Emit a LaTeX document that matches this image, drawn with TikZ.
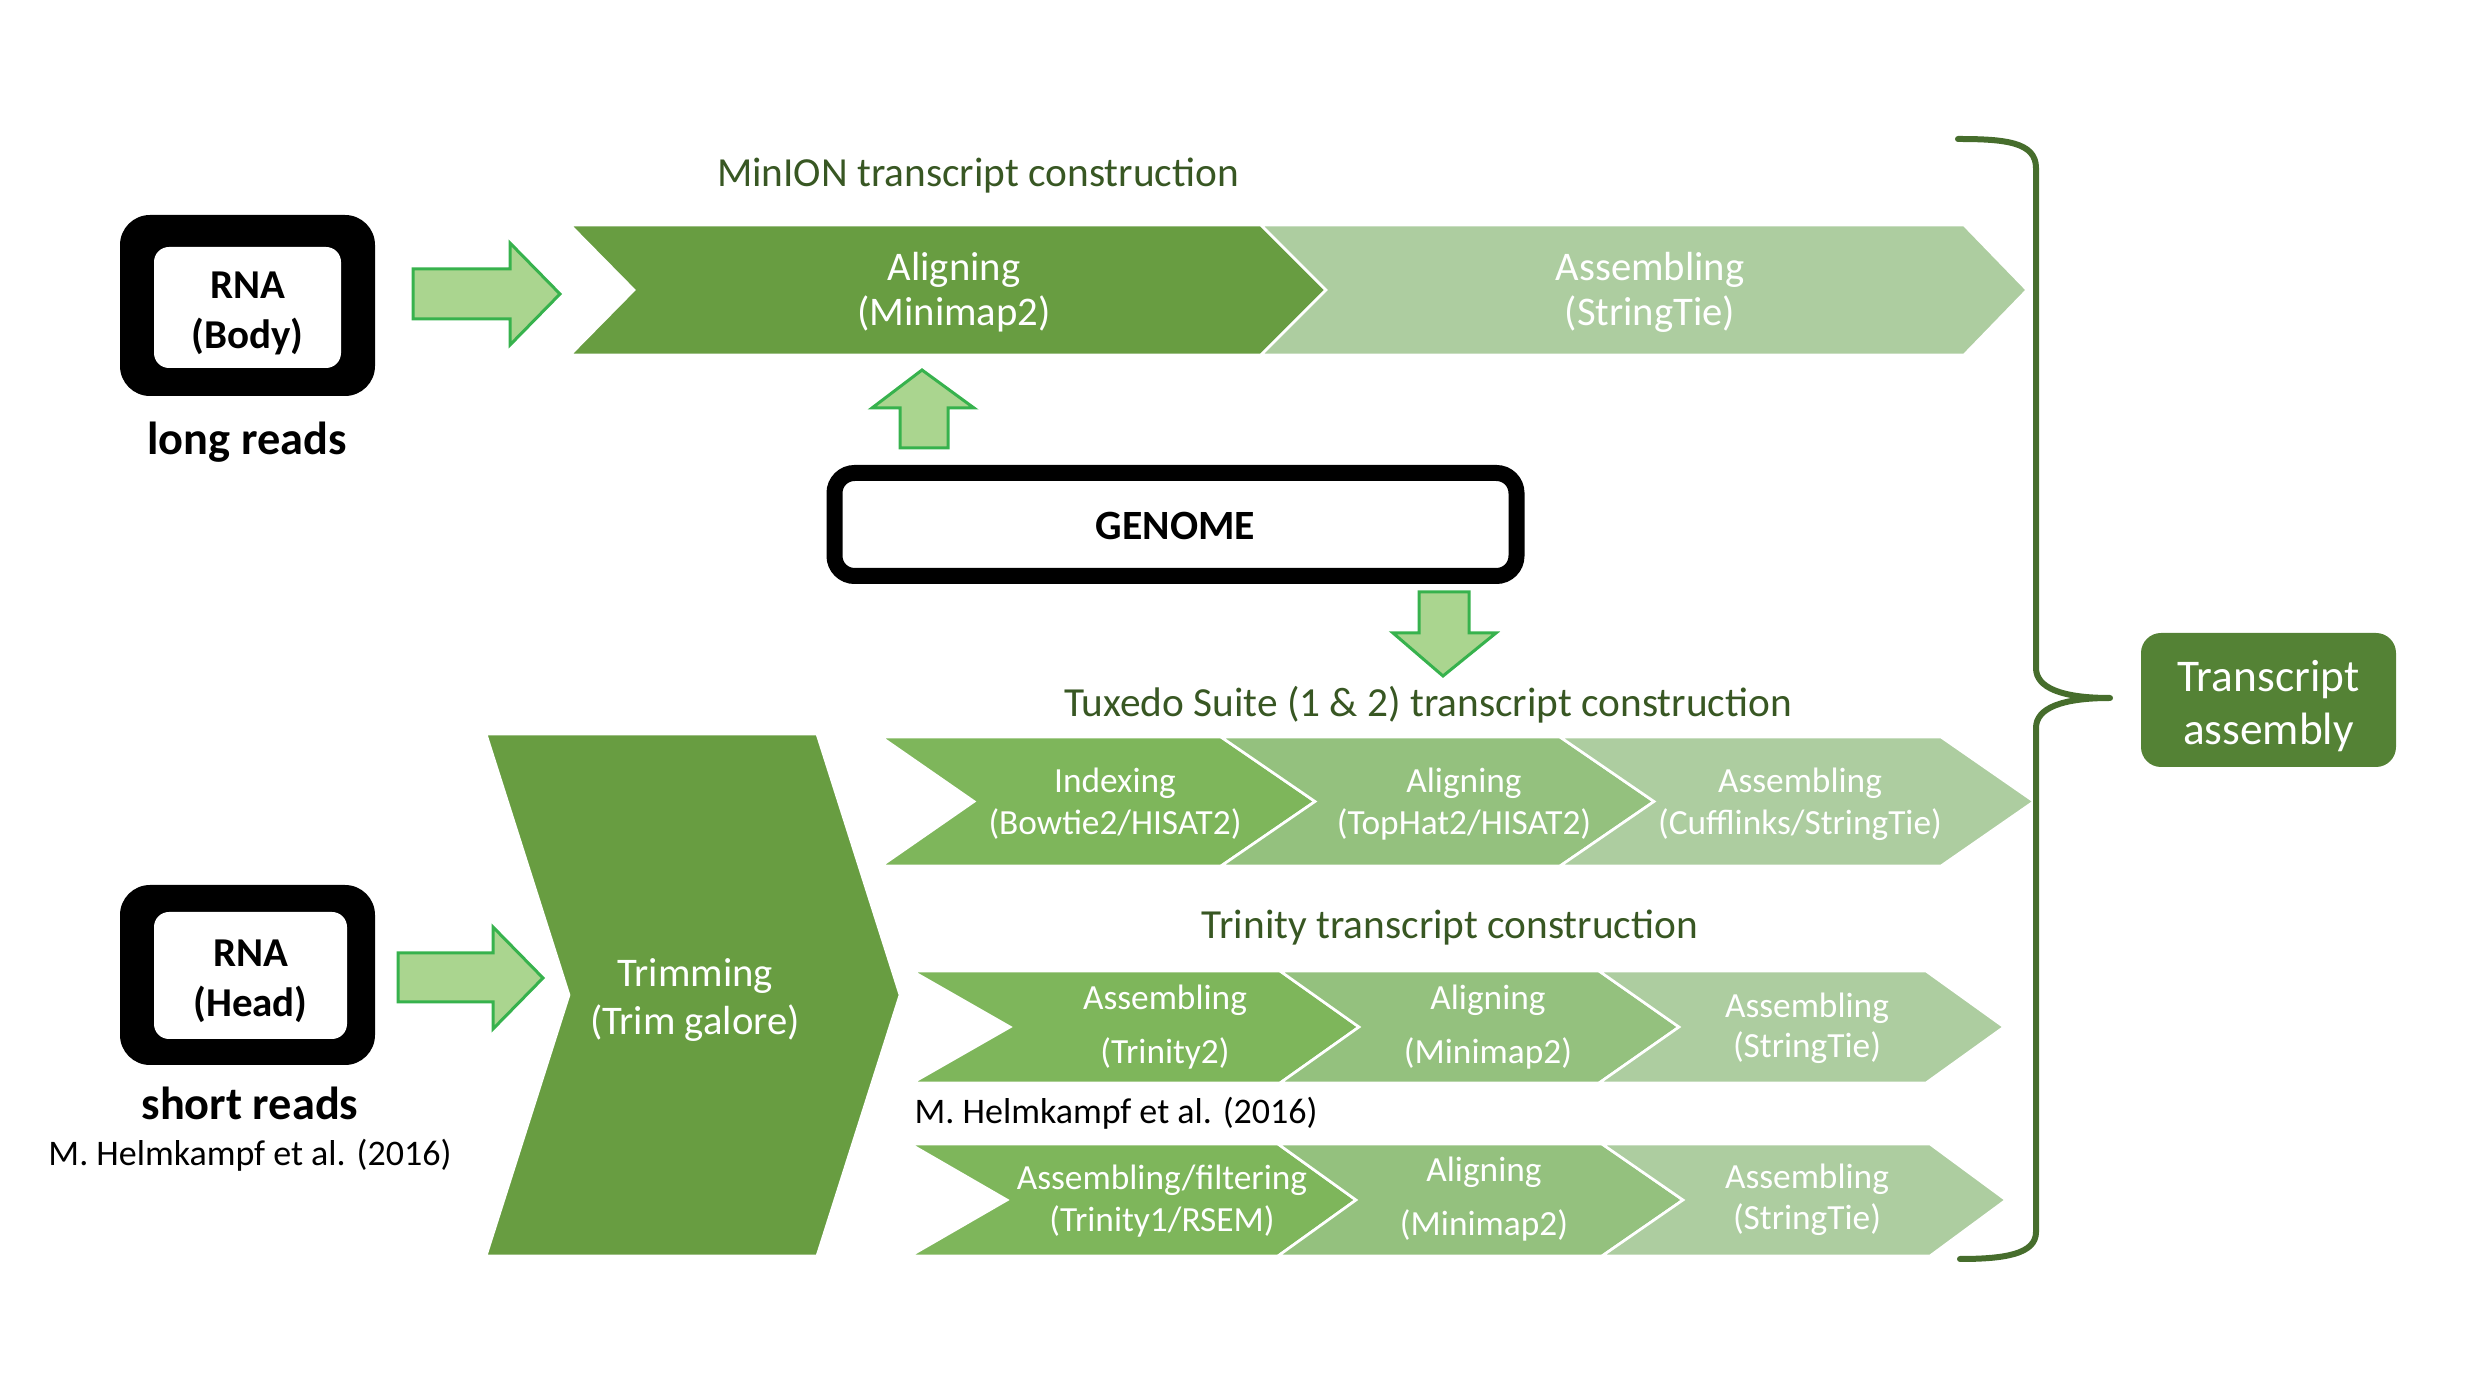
\documentclass[tikz,border=0pt]{standalone}
\usepackage{fontspec}
\setmainfont{Carlito}
\definecolor{gdark}{HTML}{689D41}
\definecolor{gone}{HTML}{7EB65B}
\definecolor{gtwo}{HTML}{94C17E}
\definecolor{gthree}{HTML}{ADCDA0}
\definecolor{garrowfill}{HTML}{AAD58F}
\definecolor{garrowline}{HTML}{37B24D}
\definecolor{gtitle}{HTML}{385723}
\definecolor{gbrace}{HTML}{466D2C}
\definecolor{gbox}{HTML}{548235}
\newcommand\chevshape[7]{\filldraw[chevfill,fill=#7] (#1,#5) -- (#3,#5) -- (#4,{(#5+#6)/2}) -- (#3,#6) -- (#1,#6) -- (#2,{(#5+#6)/2}) -- cycle;}
\begin{document}
\begin{tikzpicture}[x=0.3pt,y=-0.3pt,
  chevfill/.style={draw=white,line width=0.8pt},
  blockarrow/.style={fill=garrowfill,draw=garrowline,line width=0.9pt,line join=miter},
  outerbox/.style={fill=black,rounded corners=9pt,inner sep=0pt},
  innerbox/.style={fill=white,rounded corners=4.5pt,inner sep=0pt,align=center},
  titletext/.style={text=gtitle,font=\fontsize{12.4}{15}\selectfont,inner sep=0pt},
  chevtext/.style={text=white,align=center,inner sep=0pt},
  bigchev/.style={chevtext,font=\fontsize{12.2}{13.5}\selectfont},
  smallchev/.style={chevtext,font=\fontsize{10.6}{12.6}\selectfont},
  readlabel/.style={font=\bfseries\fontsize{13.9}{16}\selectfont,inner sep=0pt},
  citetext/.style={font=\fontsize{10.8}{13}\selectfont,inner sep=0pt},
  rnatext/.style={font=\bfseries\fontsize{12.3}{15}\selectfont}
]
\useasboundingbox (0,0) rectangle (2472,1383);

% ---------- RNA (Body) ----------
\node[outerbox,minimum width=76.5pt,minimum height=54.3pt] (bodyout) at (247.5,305.5) {};
\node[innerbox,minimum width=56.1pt,minimum height=36.3pt] (body) at (247.5,307.5) {};
\node[rnatext,align=center,inner sep=0pt] (bodytext) at (247.5,313) {RNA\\(Body)};
\node[readlabel] (longreads) at (247,442) {long reads};

% ---------- RNA (Head) ----------
\node[outerbox,minimum width=76.5pt,minimum height=54pt] (headout) at (247.5,975) {};
\node[innerbox,minimum width=57.9pt,minimum height=38.1pt] (head) at (250.5,975.5) {};
\node[rnatext,align=center,inner sep=0pt] (headtext) at (250.5,981) {RNA\\(Head)};
\node[readlabel] (shortreads) at (250,1103) {short reads};
\node[citetext] (cite1) at (250,1155) {M. Helmkampf et al. (2016)};

% ---------- block arrows ----------
\filldraw[blockarrow] (413,269) -- (510,269) -- (510,243) -- (560,294) -- (510,345) -- (510,319) -- (413,319) -- cycle;
\filldraw[blockarrow] (398,953) -- (493,953) -- (493,927) -- (543,978) -- (493,1029) -- (493,1002) -- (398,1002) -- cycle;
\filldraw[blockarrow] (900,448) -- (900,408) -- (872,408) -- (922,370) -- (974,408) -- (948,408) -- (948,448) -- cycle;
\filldraw[blockarrow] (1419,592) -- (1469,592) -- (1469,633) -- (1496,633) -- (1443,676) -- (1393,633) -- (1419,633) -- cycle;

% ---------- MinION row ----------
\node[titletext] (miniontitle) at (978,176) {MinION transcript construction};
\chevshape{570}{634}{1261}{1326}{225}{355}{gdark}
\chevshape{1261}{1326}{1964}{2027}{225}{355}{gthree}
\node[bigchev] (mal) at (954,292) {Aligning\\(Minimap2)};
\node[bigchev] (mas) at (1650,292) {Assembling\\(StringTie)};

% ---------- GENOME ----------
\node[draw=black,line width=4.8pt,rounded corners=6pt,minimum width=204.6pt,minimum height=30.9pt,inner sep=0pt] (genome) at (1175.5,524.5) {};
\node[font=\bfseries\fontsize{12.5}{15}\selectfont,inner sep=0pt] (genometext) at (1175.5,526) {GENOME};

% ---------- Trimming ----------
\filldraw[chevfill,fill=gdark] (486,734) -- (817,734) -- (900,995) -- (817,1256) -- (486,1256) -- (569,995) -- cycle;
\node[chevtext,font=\fontsize{12.2}{14.4}\selectfont] (trim) at (695,1000) {Trimming\\(Trim galore)};

% ---------- Tuxedo row ----------
\node[titletext] (tuxtitle) at (1428,705) {Tuxedo Suite (1 \& 2) transcript construction};
\chevshape{881}{974}{1221}{1315}{737}{866}{gone}
\chevshape{1221}{1315}{1560}{1654}{737}{866}{gtwo}
\chevshape{1560}{1654}{1941}{2034}{737}{866}{gthree}
\node[smallchev] (tidx) at (1115,804) {Indexing\\(Bowtie2/HISAT2)};
\node[smallchev] (tal) at (1464,804) {Aligning\\(TopHat2/HISAT2)};
\node[smallchev] (tas) at (1800,804) {Assembling\\(Cufflinks/StringTie)};

% ---------- Trinity rows ----------
\node[titletext] (trintitle) at (1450,928) {Trinity transcript construction};
\chevshape{912}{1010}{1280}{1359}{971}{1083}{gone}
\chevshape{1280}{1359}{1599}{1679}{971}{1083}{gtwo}
\chevshape{1599}{1679}{1926}{2004}{971}{1083}{gthree}
\node[smallchev,font=\fontsize{10.6}{16.2}\selectfont] (r1a) at (1165,1027) {Assembling\\(Trinity2)};
\node[smallchev,font=\fontsize{10.6}{16.2}\selectfont] (r1b) at (1488,1027) {Aligning\\(Minimap2)};
\node[smallchev,font=\fontsize{10.6}{12}\selectfont] (r1c) at (1807,1028) {Assembling\\(StringTie)};

\node[citetext,anchor=west] (cite2) at (914,1113) {M. Helmkampf et al. (2016)};

\chevshape{910}{1007}{1278}{1356}{1144}{1256}{gone}
\chevshape{1278}{1356}{1602}{1683}{1144}{1256}{gtwo}
\chevshape{1602}{1683}{1930}{2006}{1144}{1256}{gthree}
\node[smallchev] (r2a) at (1162,1201) {Assembling/filtering\\(Trinity1/RSEM)};
\node[smallchev,font=\fontsize{10.6}{16}\selectfont] (r2b) at (1484,1199) {Aligning\\(Minimap2)};
\node[smallchev,font=\fontsize{10.6}{12.3}\selectfont] (r2c) at (1807,1200) {Assembling\\(StringTie)};

% ---------- brace ----------
\draw[gbrace,line width=1.8pt,line cap=round,line join=round]
  (1958,139) .. controls (2005,139) and (2036,142) .. (2036,168)
  -- (2036,668) .. controls (2036,688) and (2062,698) .. (2110,698)
  .. controls (2062,698) and (2036,708) .. (2036,728)
  -- (2036,1232) .. controls (2036,1254) and (2005,1259) .. (1960,1259);

% ---------- Transcript assembly ----------
\node[fill=gbox,rounded corners=6pt,minimum width=76.5pt,minimum height=40.2pt,inner sep=0pt] (ta) at (2268.5,700) {};
\node[text=white,align=center,inner sep=0pt,font=\fontsize{13.6}{16}\selectfont] (tatext) at (2268.5,706) {Transcript\\assembly};

\end{tikzpicture}
\end{document}
